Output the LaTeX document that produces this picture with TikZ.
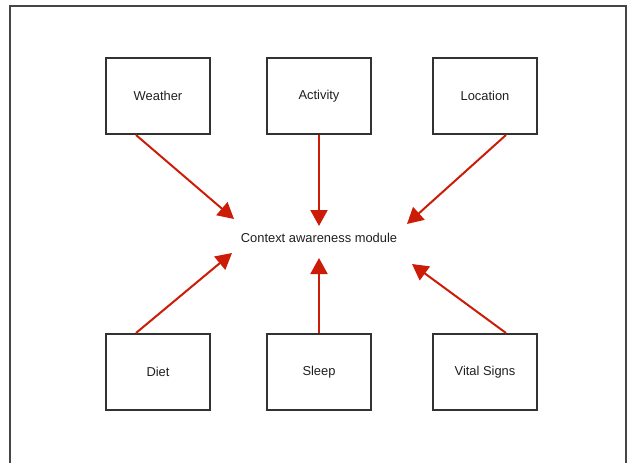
\documentclass[tikz,border=0pt]{standalone}
\usepackage{fontspec}
\setmainfont{Liberation Sans}
\usetikzlibrary{arrows.meta}
\definecolor{arrred}{RGB}{204,28,8}
\definecolor{boxgray}{RGB}{50,50,50}
\definecolor{framegray}{RGB}{70,70,70}
\begin{document}
\begin{tikzpicture}[x=1pt,y=-1pt,
  srcbox/.style={draw=boxgray, line width=2pt, minimum width=104pt, minimum height=76pt, inner sep=0pt, font=\fontsize{12.9pt}{15pt}\selectfont, text=black!88},
  ctxlabel/.style={inner sep=0pt, font=\fontsize{12.9pt}{15pt}\selectfont, text=black!88},
  feed/.style={draw=arrred, line width=2pt, -{Triangle[length=16pt,width=17pt]}}]
\useasboundingbox (0,0) rectangle (627,463);
\draw[framegray, line width=2pt] (10,463) -- (10,6) -- (626,6) -- (626,463);
\node[srcbox] (weather) at (158,96) {Weather};
\node[srcbox] (activity) at (319,96) {Activity};
\node[srcbox] (location) at (485,96) {Location};
\node[srcbox] (diet) at (158,372) {Diet};
\node[srcbox] (sleep) at (319,372) {Sleep};
\node[srcbox] (vital) at (485,372) {Vital Signs};
\node[ctxlabel] (ctx) at (319,238) {Context awareness module};
\coordinate (tw) at (234,219);
\coordinate (ta) at (319,226);
\coordinate (tl) at (407,224);
\coordinate (td) at (232,253);
\coordinate (ts) at (319,258);
\coordinate (tv) at (412,264);
\draw[feed] ([xshift=-22pt]weather.south) -- (tw);
\draw[feed] (activity.south) -- (ta);
\draw[feed] ([xshift=21pt]location.south) -- (tl);
\draw[feed] ([xshift=-22pt]diet.north) -- (td);
\draw[feed] (sleep.north) -- (ts);
\draw[feed] ([xshift=21pt]vital.north) -- (tv);
\end{tikzpicture}
\end{document}
